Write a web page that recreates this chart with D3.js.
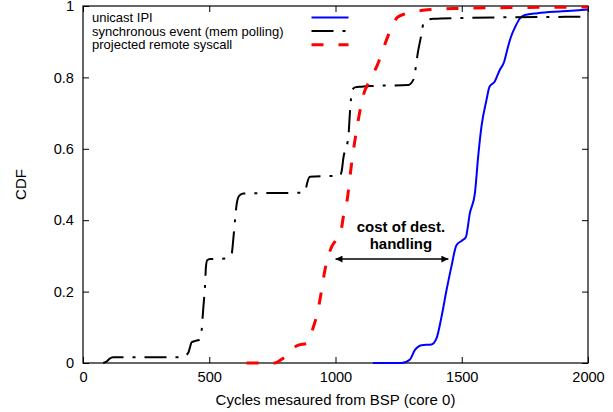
<!DOCTYPE html>
<html>
<head>
<meta charset="utf-8">
<script src="https://cdn.jsdelivr.net/npm/d3@7"></script>
<style>
  html, body { margin: 0; padding: 0; background: #fff; }
  svg { display: block; }
  text { font-family: "Liberation Sans", Arial, Helvetica, sans-serif; fill: #000; }
</style>
</head>
<body>
<svg id="chart" width="613" height="412"></svg>
<script>
// ---------------- data ----------------
const seriesNames = ["unicast IPI", "synchronous event (mem polling)", "projected remote syscall"];

const blueX = [1148, 1261, 1295, 1314, 1341, 1380, 1400, 1420, 1440, 1459, 1479, 1499, 1516, 1532, 1552, 1565, 1578, 1598, 1610, 1630, 1650, 1668, 1680, 1695, 1712, 1730, 1750, 1800, 1900, 2000];
const blueY = [0, 0, 0.01, 0.036, 0.05, 0.052, 0.069, 0.13, 0.205, 0.27, 0.33, 0.342, 0.352, 0.419, 0.475, 0.578, 0.662, 0.737, 0.774, 0.788, 0.82, 0.844, 0.877, 0.914, 0.942, 0.965, 0.975, 0.98, 0.985, 0.99];

const blackX = [80, 95, 105, 119, 174, 392, 400, 418, 424, 430, 445, 460, 468, 476, 483, 487, 492, 503, 569, 589, 595, 602, 609, 619, 635, 859, 872, 883, 886, 899, 1018, 1025, 1031, 1051, 1057, 1061, 1064, 1077, 1104, 1150, 1288, 1308, 1328, 1341, 1348, 1361, 1387, 1480, 2000];
const blackY = [0, 0.005, 0.012, 0.016, 0.016, 0.016, 0.018, 0.03, 0.045, 0.058, 0.062, 0.065, 0.08, 0.15, 0.214, 0.27, 0.288, 0.291, 0.293, 0.307, 0.345, 0.40, 0.447, 0.469, 0.475, 0.477, 0.478, 0.489, 0.499, 0.522, 0.525, 0.54, 0.573, 0.634, 0.70, 0.737, 0.76, 0.772, 0.774, 0.776, 0.779, 0.793, 0.877, 0.923, 0.951, 0.961, 0.964, 0.966, 0.97];

const redX = [648, 701, 760, 773, 790, 806, 830, 853, 886, 896, 912, 928, 945, 958, 971, 985, 1004, 1018, 1025, 1031, 1044, 1064, 1090, 1110, 1135, 1166, 1202, 1225, 1245, 1275, 1300, 1346, 1480, 1743, 2000];
const redY = [0, 0, 0, 0.004, 0.012, 0.02, 0.04, 0.05, 0.055, 0.064, 0.10, 0.139, 0.204, 0.26, 0.298, 0.326, 0.345, 0.359, 0.382, 0.41, 0.447, 0.56, 0.68, 0.75, 0.79, 0.835, 0.905, 0.945, 0.968, 0.978, 0.983, 0.988, 0.993, 0.996, 0.997];

const xTicks = [0, 500, 1000, 1500, 2000];
const yTicks = [0, 0.2, 0.4, 0.6, 0.8, 1];
const xTickLabels = ["0", "500", "1000", "1500", "2000"];
const yTickLabels = ["0", "0.2", "0.4", "0.6", "0.8", "1"];

const xTitle = "Cycles mesaured from BSP (core 0)";
const yTitle = "CDF";
const annotationLines = ["cost of dest.", "handling"];
const arrowFrom = 1000, arrowTo = 1447, arrowY = 0.291;

// ---------------- layout ----------------
const L = 83, R = 588, T = 6, B = 363;
const svg = d3.select("#chart");
const x = d3.scaleLinear().domain([0, 2000]).range([L, R]);
const y = d3.scaleLinear().domain([0, 1]).range([B, T]);

// axes (inward ticks, mirrored)
const axB = svg.append("g").attr("transform", `translate(0,${B})`)
  .call(d3.axisBottom(x).tickValues(xTicks).tickFormat((d, i) => xTickLabels[i]).tickSizeInner(-6).tickSizeOuter(0).tickPadding(9));
const axT = svg.append("g").attr("transform", `translate(0,${T})`)
  .call(d3.axisTop(x).tickValues(xTicks).tickFormat("").tickSizeInner(-6).tickSizeOuter(0));
const axL = svg.append("g").attr("transform", `translate(${L},0)`)
  .call(d3.axisLeft(y).tickValues(yTicks).tickFormat((d, i) => yTickLabels[i]).tickSizeInner(-6).tickSizeOuter(0).tickPadding(9));
const axR = svg.append("g").attr("transform", `translate(${R},0)`)
  .call(d3.axisRight(y).tickValues(yTicks).tickFormat("").tickSizeInner(-6).tickSizeOuter(0));
[axB, axT, axL, axR].forEach(a => {
  a.select(".domain").remove();
  a.selectAll("line").attr("stroke", "#000").attr("stroke-width", 1);
  a.selectAll("text").style("font-size", "14.6px").style("font-family", "'Liberation Sans', Arial, sans-serif").attr("fill", "#000");
});

// frame
svg.append("rect").attr("x", L).attr("y", T).attr("width", R - L).attr("height", B - T)
  .attr("fill", "none").attr("stroke", "#000").attr("stroke-width", 1.2);

// axis titles
svg.append("text").attr("x", (L + R) / 2).attr("y", 405).attr("text-anchor", "middle")
  .style("font-size", "15px").text(xTitle);
svg.append("text").attr("transform", `translate(26,${(T + B) / 2}) rotate(-90)`).attr("text-anchor", "middle")
  .style("font-size", "15px").text(yTitle);

// curves
const line = d3.line().x(d => x(d[0])).y(d => y(d[1])).curve(d3.curveMonotoneX);
const zip = (a, b) => a.map((v, i) => [v, b[i]]);
const series = [
  { data: zip(blueX, blueY), color: "#0000ff", width: 2, dash: null },
  { data: zip(blackX, blackY), color: "#000000", width: 2, dash: "22,9,3,9" },
  { data: zip(redX, redY), color: "#ff0000", width: 3, dash: "12,15" }
];
series.forEach(s => {
  svg.append("path").attr("d", line(s.data)).attr("fill", "none")
    .attr("stroke", s.color).attr("stroke-width", s.width)
    .attr("stroke-dasharray", s.dash).attr("stroke-linejoin", "round");
});

// legend
const lg = svg.append("g");
seriesNames.forEach((name, i) => {
  const yy = 17.5 + i * 13.6;
  lg.append("text").attr("x", 92).attr("y", yy).attr("dy", "0.35em").style("font-size", "13px").text(name);
  lg.append("line").attr("x1", 311.5).attr("x2", 348.5).attr("y1", yy).attr("y2", yy)
    .attr("stroke", series[i].color).attr("stroke-width", series[i].width)
    .attr("stroke-dasharray", series[i].dash);
});

// annotation
const defs = svg.append("defs");
defs.append("marker").attr("id", "ah").attr("viewBox", "0 0 10 10").attr("refX", 10).attr("refY", 5)
  .attr("markerWidth", 9).attr("markerHeight", 7).attr("markerUnits", "userSpaceOnUse").attr("orient", "auto-start-reverse")
  .append("path").attr("d", "M0,0 L10,5 L0,10 z").attr("fill", "#000");
svg.append("line").attr("x1", x(arrowFrom)).attr("x2", x(arrowTo)).attr("y1", y(arrowY)).attr("y2", y(arrowY))
  .attr("stroke", "#000").attr("stroke-width", 1.5)
  .attr("marker-start", "url(#ah)").attr("marker-end", "url(#ah)");
const cx = (x(arrowFrom) + x(arrowTo)) / 2 + 9;
annotationLines.forEach((t, i) => {
  svg.append("text").attr("x", cx).attr("y", 226.5 + i * 17.5).attr("dy", "0.35em").attr("text-anchor", "middle")
    .style("font-size", "15px").style("font-weight", "bold").text(t);
});
</script>
</body>
</html>
